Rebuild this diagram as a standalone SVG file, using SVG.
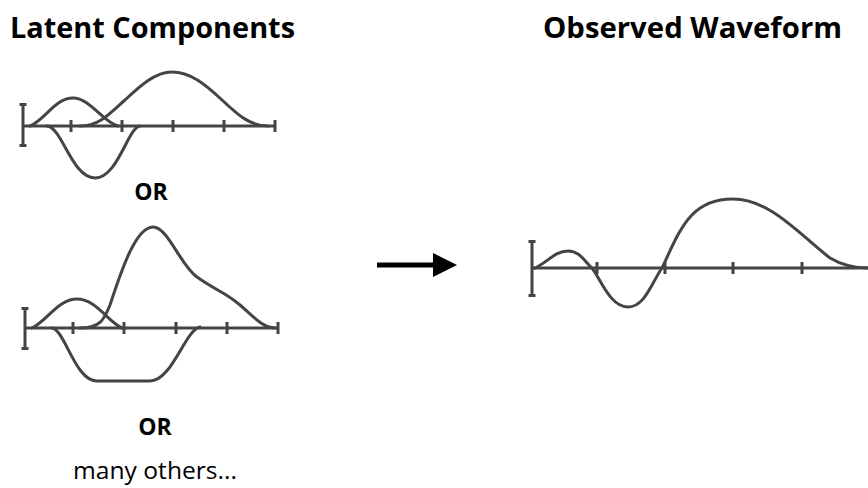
<svg xmlns="http://www.w3.org/2000/svg" width="868" height="488" viewBox="0 0 868 488">
<style>
.ax{stroke:#444;stroke-width:3;fill:none}
.cv{stroke:#444;stroke-width:3;fill:none;stroke-linecap:round}
.t{font-family:"Open Sans","Noto Sans",sans-serif;fill:#000}
.b{font-weight:bold}
</style>
<rect width="868" height="488" fill="#fff"/>
<text class="t b" x="10" y="38" font-size="28" textLength="285" lengthAdjust="spacingAndGlyphs">Latent Components</text>
<text class="t b" x="543" y="38" font-size="28" textLength="299" lengthAdjust="spacingAndGlyphs">Observed Waveform</text>

<g id="plot1">
<path class="ax" d="M23,104V146M19.5,104.5H26.5M19.5,145.5H26.5M23,126H275M71,120V132M122,120V132M173,120V132M224,120V132M275,120V132"/>
<path class="cv" d="M30,126C45,120 55,98 73,98C90,98 103,122 118,126"/>
<path class="cv" d="M80,126C100,126 110,113 125,100C140,86 155,72 172,72C190,72 205,84 222,100C238,115 250,126 268,126"/>
<path class="cv" d="M47,126C62,127 72,178 95,178C118,178 128,127 140,126"/>
</g>
<text class="t b" x="151" y="200" font-size="23" text-anchor="middle">OR</text>

<g id="plot2">
<path class="ax" d="M25,308V349M21.5,308.5H28.5M21.5,348.5H28.5M25,328H278M73,322V334M124,322V334M176,322V334M227,322V334M278,322V334"/>
<path class="cv" d="M32,328C48,320 58,299 77,299C96,299 108,322 122,328"/>
<path class="cv" d="M80,328C100,328 104,320 110,305C120,275 135,227 153,227C168,227 180,265 197,277C215,290 225,292 240,305C255,318 262,327 275,328"/>
<path class="cv" d="M52,328C65,330 75,381 97,381L150,381C172,381 185,330 200,327"/>
</g>
<text class="t b" x="155" y="435" font-size="23" text-anchor="middle">OR</text>
<text class="t" x="73" y="479" font-size="23" textLength="164" lengthAdjust="spacingAndGlyphs">many others...</text>

<g id="connectors">
<path d="M377,265H436" stroke="#000" stroke-width="5"/>
<polygon points="433,253 457,265 433,277" fill="#000"/>
</g>

<g id="observed">
<path class="ax" d="M532,241V296M528.5,241.5H535.5M528.5,295.5H535.5M532,268H868M597,262V274M665,262V274M733,262V274M802,262V274"/>
<path class="cv" d="M535,268C548,262 555,251 568,251C580,251 585,262 592,268C600,278 610,307 628,307C645,307 652,282 662,268C680,230 690,199 733,199C770,199 800,235 830,258C845,267 860,268 868,268"/>
</g>
</svg>
